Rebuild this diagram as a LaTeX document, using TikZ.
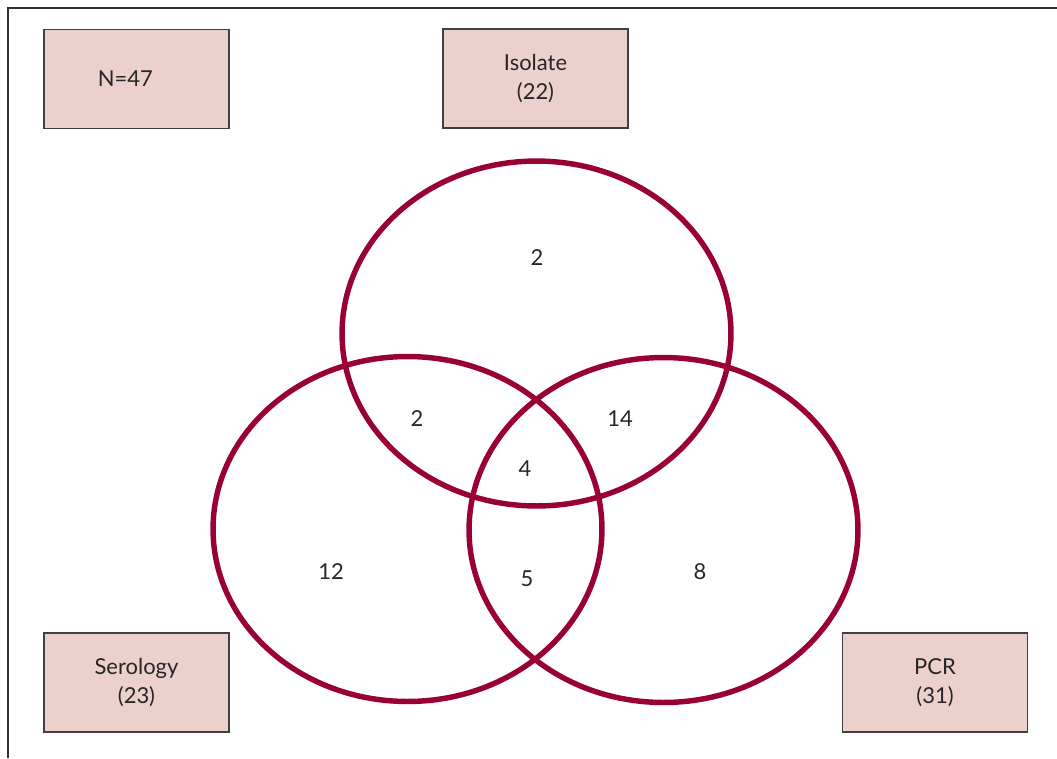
\documentclass[tikz,border=0pt]{standalone}
\usepackage{fontspec}
\setmainfont{Lato}
\usepackage{tikz}
\usetikzlibrary{shapes.geometric, positioning}

\definecolor{ringred}{RGB}{153,0,51}
\definecolor{boxpink}{RGB}{235,208,203}
\definecolor{boxline}{RGB}{64,64,64}

\tikzset{
    setbox/.style={draw=boxline, line width=0.85pt, fill=boxpink, rectangle, minimum width=3.7cm, minimum height=1.98cm, align=center, font=\fontsize{12.5}{16.5}\selectfont, text=black!85},
    ring/.style={draw=ringred, line width=3.1pt, ellipse, minimum width=7.78cm, minimum height=6.9cm},
    count/.style={font=\fontsize{12.5}{15}\selectfont, text=black!85}
}

\begin{document}
\begin{tikzpicture}[x=0.02cm, y=-0.02cm]
    \useasboundingbox (0,0) rectangle (1057,758);
    % Frame, top and left
    \draw[line width=0.8pt, black!80] (1057,8) -- (8,8) -- (8,758);

    % Label boxes
    \node[setbox] (total) at (136.5,79) {N=47\hspace*{0.45cm}};
    \node[setbox] (isolate) at (535.5,78.5) {Isolate\\(22)};
    \node[setbox] (serology) at (136.5,682.5) {Serology\\(23)};
    \node[setbox] (pcr) at (935,682.5) {PCR\\(31)};

    % Circles
    \node[ring] (isolring) at (536.5,333.5) {};
    \node[ring] (seroring) at (407.5,529) {};
    \node[ring] (pcrring) at (663.5,530) {};

    % Counts
    \node[count] (onlyisol) at (537,258) {2};
    \node[count] (isolsero) at (417,419) {2};
    \node[count] (isolpcr) at (620,419) {14};
    \node[count] (allthree) at (525,469) {4};
    \node[count] (onlysero) at (331,572) {12};
    \node[count] (seropcr) at (527,579) {5};
    \node[count] (onlypcr) at (700,572) {8};
\end{tikzpicture}
\end{document}
